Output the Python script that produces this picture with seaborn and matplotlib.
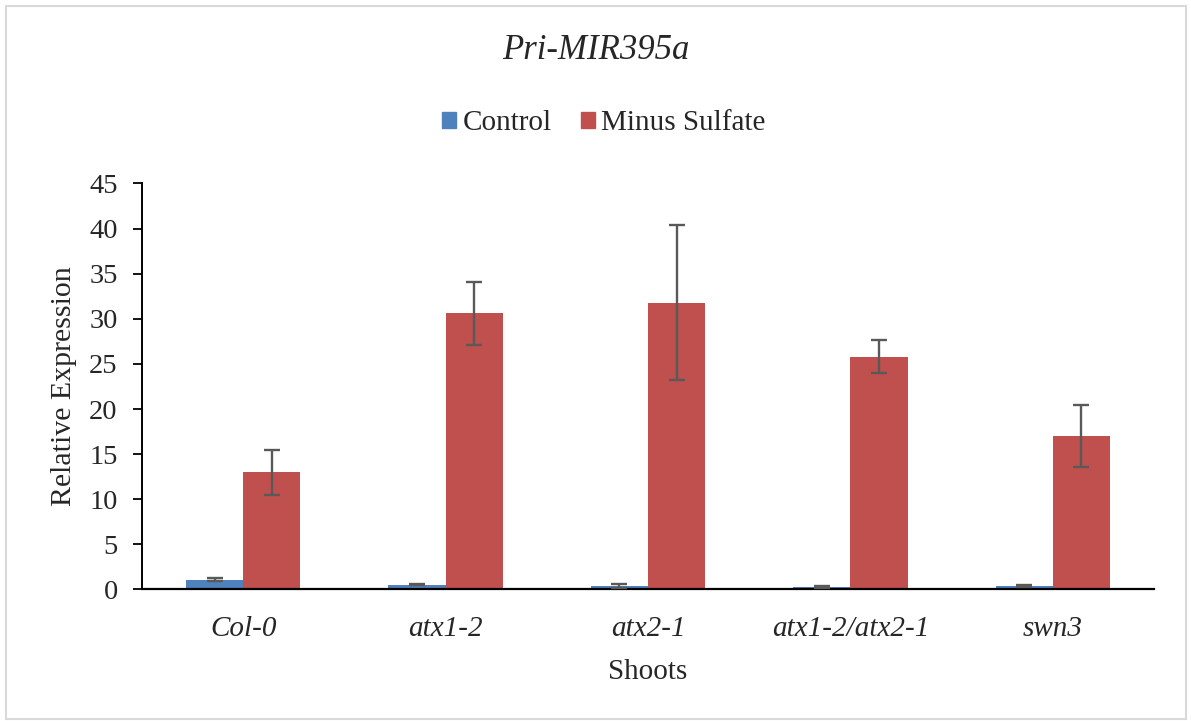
import matplotlib
matplotlib.use("Agg")
import matplotlib.pyplot as plt
import seaborn as sns
import pandas as pd
import numpy as np
from matplotlib.patches import Rectangle

# Relative expression of Pri-MIR395a in shoots
genotypes = ["Col-0", "atx1-2", "atx2-1", "atx1-2/atx2-1", "swn3"]
conditions = ["Control", "Minus Sulfate"]
control_mean = [1.1, 0.55, 0.4, 0.3, 0.35]
control_err = [0.2, 0.1, 0.2, 0.1, 0.12]
minus_mean = [13.0, 30.6, 31.8, 25.8, 17.0]
minus_err = [2.5, 3.45, 8.6, 1.8, 3.4]
y_ticks = [0, 5, 10, 15, 20, 25, 30, 35, 40, 45]

colors = ["#4F81BD", "#C0504D"]

df = pd.DataFrame({
    "Genotype": genotypes * 2,
    "Condition": [conditions[0]] * len(genotypes) + [conditions[1]] * len(genotypes),
    "Expression": control_mean + minus_mean,
})
errs = {conditions[0]: control_err, conditions[1]: minus_err}

sns.set_theme(style="white")
plt.rcParams["font.family"] = ["Liberation Serif", "DejaVu Serif"]

fig = plt.figure(figsize=(11.91, 7.21), dpi=100)
ax = fig.add_axes([0.1192, 0.1824, 0.8498, 0.5631])

sns.barplot(data=df, x="Genotype", y="Expression", hue="Condition",
            order=genotypes, hue_order=conditions, palette=colors,
            errorbar=None, width=0.565, saturation=1, ax=ax, linewidth=0)

# error bars placed on each bar's centre
for cond, cont in zip(conditions, ax.containers):
    xs = [b.get_x() + b.get_width() / 2 for b in cont]
    hs = [b.get_height() for b in cont]
    ax.errorbar(xs, hs, yerr=errs[cond], fmt="none", ecolor="#595959",
                elinewidth=1.7, capsize=5.8, capthick=1.7, zorder=5)

ax.set_ylim(0, 45)
ax.set_xlim(-0.5, len(genotypes) - 0.5)
ax.set_yticks(y_ticks)
ax.set_yticklabels([str(t) for t in y_ticks], fontsize=20.5)
ax.set_xticks(range(len(genotypes)))
ax.set_xticklabels(genotypes, fontsize=21, style="italic")
ax.tick_params(axis="y", direction="out", length=6.5, width=1.3, color="black",
               left=True, pad=11)
ax.tick_params(axis="x", length=0, pad=19)

for side in ["top", "right"]:
    ax.spines[side].set_visible(False)
ax.spines["left"].set_color("black")
ax.spines["left"].set_linewidth(1.4)
ax.spines["bottom"].set_color("black")
ax.spines["bottom"].set_linewidth(1.6)

ax.set_xlabel("Shoots", fontsize=21, labelpad=12)
ax.set_ylabel("Relative Expression", fontsize=21.5, labelpad=9)

ax.legend_.remove()
handles = [Rectangle((0, 0), 1, 1, color=c) for c in colors]
fig.legend(handles, conditions, loc="center", bbox_to_anchor=(0.507, 0.829),
           ncol=2, frameon=False, fontsize=21, handlelength=0.48,
           handleheight=0.48, handletextpad=0.22, columnspacing=1.0)

fig.text(0.5, 0.93, "Pri-MIR395a", ha="center", va="center",
         fontsize=25, style="italic")

# light outer frame around the chart area
fig.patches.append(Rectangle((0.005, 0.003), 0.991, 0.989, transform=fig.transFigure,
                             fill=False, edgecolor="#D9D9D9", linewidth=1.5))

fig.savefig("out.png", dpi=100, facecolor="white")
